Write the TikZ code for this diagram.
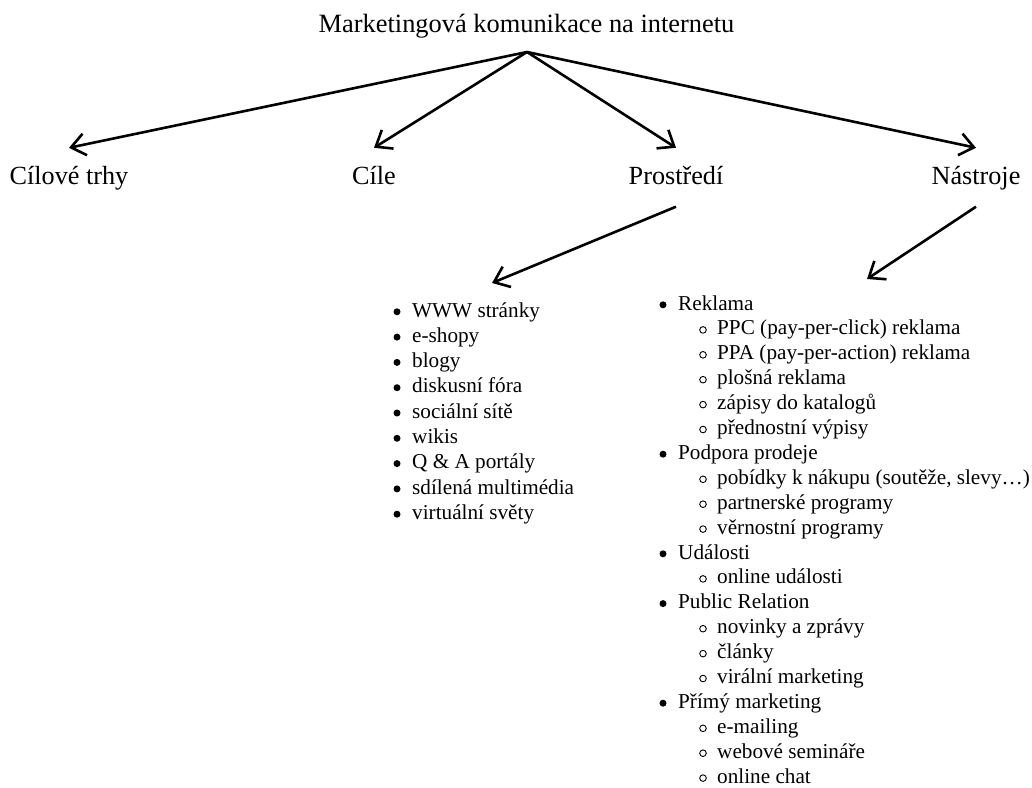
\documentclass[tikz,border=0pt]{standalone}
\usepackage{fontspec}
\setmainfont{Liberation Serif}
\usetikzlibrary{arrows.meta,positioning}
\tikzstyle{head}=[font=\fontsize{26.4}{30}\selectfont, inner sep=0pt, anchor=base]
\tikzstyle{branch}=[font=\fontsize{26.2}{30}\selectfont, anchor=base, inner xsep=0pt, inner ysep=18.5pt, text height=17.5pt, text depth=4pt]
\tikzstyle{item}=[font=\fontsize{21.2}{25}\selectfont, inner sep=0pt, anchor=base west]
\tikzstyle{toarr}=[-{Straight Barb[length=14pt,width=22pt]}, line width=2.6pt]
\tikzstyle{ring}=[line width=0.9pt]

\begin{document}
\begin{tikzpicture}[x=1pt,y=-1pt]
\useasboundingbox (0,0) rectangle (1032,787);

\node[head] (title) at (526.5,32) {Marketingová komunikace na internetu};
\coordinate (hub) at (527,52);

\node[branch] (trhy) at (69,184) {Cílové trhy};
\node[branch] (cile) at (374,184) {Cíle};
\node[branch] (prostredi) at (676,184) {Prostředí};
\node[branch] (nastroje) at (976,184) {Nástroje};

\foreach \n in {trhy,cile,prostredi,nastroje} {
	\draw[toarr] (hub) -- (\n.north);
}

% prostredi
\foreach \t [count=\i from 0] in {WWW stránky, e-shopy, blogy, diskusní fóra, sociální sítě, wikis, Q \& A portály, sdílená multimédia, virtuální světy} {
	\node[item] (w\i) at (393.3,{317+25.3*\i}) {\hspace*{18.7pt}\t};
	\fill ([shift={(3.7pt,5.2pt)}]w\i.base west) circle (3.5pt);
}
\coordinate (webtip) at (492,283);
\draw[toarr] (prostredi.south) -- (webtip);

% nastroje
\foreach \l/\t [count=\i from 0] in {0/Reklama, 1/PPC (pay-per-click) reklama, 1/PPA (pay-per-action) reklama, 1/plošná reklama, 1/zápisy do katalogů, 1/přednostní výpisy, 0/Podpora prodeje, 1/{pobídky k nákupu (soutěže, slevy…)}, 1/partnerské programy, 1/věrnostní programy, 0/Události, 1/online události, 0/Public Relation, 1/novinky a zprávy, 1/články, 1/virální marketing, 0/Přímý marketing, 1/e-mailing, 1/webové semináře, 1/online chat} {
	\ifcase\l
		\node[item] (t\i) at (659.3,{310+24.9*\i}) {\hspace*{18.7pt}\t};
		\fill ([shift={(3.7pt,5.2pt)}]t\i.base west) circle (3.5pt);
	\or
		\node[item] (t\i) at (696.65,{310+24.9*\i}) {\hspace*{20.35pt}\t};
		\draw[ring] ([shift={(6.35pt,5pt)}]t\i.base west) circle (3.3pt);
	\fi
}
\coordinate (tooltip) at (867,279);
\draw[toarr] (nastroje.south) -- (tooltip);
\end{tikzpicture}
\end{document}
